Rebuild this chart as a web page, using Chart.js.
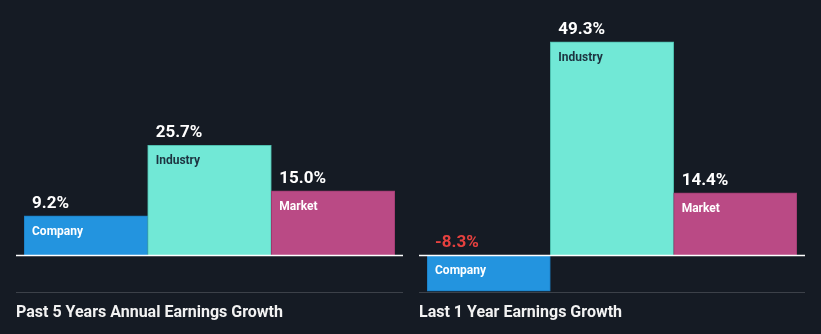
<!DOCTYPE html>
<html>
<head>
<meta charset="utf-8">
<script src="https://cdn.jsdelivr.net/npm/chart.js@4.4.1/dist/chart.umd.min.js"></script>
<style>
  html, body { margin: 0; padding: 0; background: #151b24; }
  body { width: 821px; height: 334px; position: relative; overflow: hidden; font-family: Roboto, "Noto Sans", sans-serif; }
  .panel { position: absolute; top: 0; height: 334px; }
  .panel canvas { position: absolute; left: 0; top: 0; }
  .title { position: absolute; top: 302px; color: #f2f2f2; font-weight: bold; font-size: 16px; white-space: nowrap; }
</style>
</head>
<body>
<div class="panel" id="p1" style="left:16px;width:387px;"><canvas id="c1"></canvas></div>
<div class="panel" id="p2" style="left:419px;width:386px;"><canvas id="c2"></canvas></div>
<div class="title" style="left:16px;">Past 5 Years Annual Earnings Growth</div>
<div class="title" style="left:419px;">Last 1 Year Earnings Growth</div>
<script>
// Earnings growth figures, in percent
const categories = ["Company", "Industry", "Market"];
const past5Years = [9.2, 25.7, 15.0];
const last1Year = [-8.3, 49.3, 14.4];

const barColors = ["#2394df", "#71e8d6", "#ba4a85"];
const edgeColors = ["#1b7cc0", "#4fbfae", "#9c3a6e"];
const nameColors = ["#ffffff", "#1d3340", "#ffffff"];

// draws value above each bar, name inside it, the zero line and the bottom rule
const barLabels = {
  id: 'barLabels',
  afterDatasetsDraw(chart) {
    const ctx = chart.ctx;
    const area = chart.chartArea;
    const zeroY = Math.round(chart.scales.y.getPixelForValue(0)) + 0.5;
    ctx.save();
    ctx.strokeStyle = '#ffffff';
    ctx.lineWidth = 1.5;
    ctx.beginPath();
    ctx.moveTo(0, zeroY);
    ctx.lineTo(chart.width, zeroY);
    ctx.stroke();

    ctx.strokeStyle = '#3c4149';
    ctx.lineWidth = 1;
    ctx.beginPath();
    ctx.moveTo(0, area.bottom + 0.5);
    ctx.lineTo(chart.width, area.bottom + 0.5);
    ctx.stroke();

    const meta = chart.getDatasetMeta(0);
    const values = chart.data.datasets[0].data;
    meta.data.forEach((bar, i) => {
      const v = values[i];
      const left = bar.x - bar.width / 2;
      const top = Math.min(bar.y, bar.base);
      ctx.textAlign = 'left';
      ctx.textBaseline = 'alphabetic';
      ctx.font = 'bold 17px Roboto';
      ctx.fillStyle = v < 0 ? '#e5413f' : '#ffffff';
      const labelY = v < 0 ? bar.base - 8 : bar.y - 8;
      ctx.fillText(v.toFixed(1) + '%', left + 8, labelY);
      ctx.font = 'bold 12px Roboto';
      ctx.fillStyle = nameColors[i];
      ctx.fillText(chart.data.labels[i], left + 8, top + 19);
    });
    ctx.restore();
  }
};

function makeChart(id, values, yMin, yMax) {
  const el = document.getElementById(id);
  const box = el.parentNode;
  el.width = box.offsetWidth;
  el.height = 334;
  return new Chart(el, {
    type: 'bar',
    data: {
      labels: categories,
      datasets: [{
        data: values,
        backgroundColor: barColors,
        borderColor: edgeColors,
        borderWidth: 1,
        barPercentage: 1,
        categoryPercentage: 1
      }]
    },
    options: {
      responsive: false,
      animation: false,
      layout: { padding: { left: 8, right: 8, top: 0, bottom: 42 } },
      plugins: { legend: { display: false }, tooltip: { enabled: false } },
      scales: {
        x: { display: false },
        y: { display: false, min: yMin, max: yMax }
      }
    },
    plugins: [barLabels]
  });
}

makeChart('c1', past5Years, -8.665, 59.72);
makeChart('c2', last1Year, -8.476, 58.96);
</script>
</body>
</html>
